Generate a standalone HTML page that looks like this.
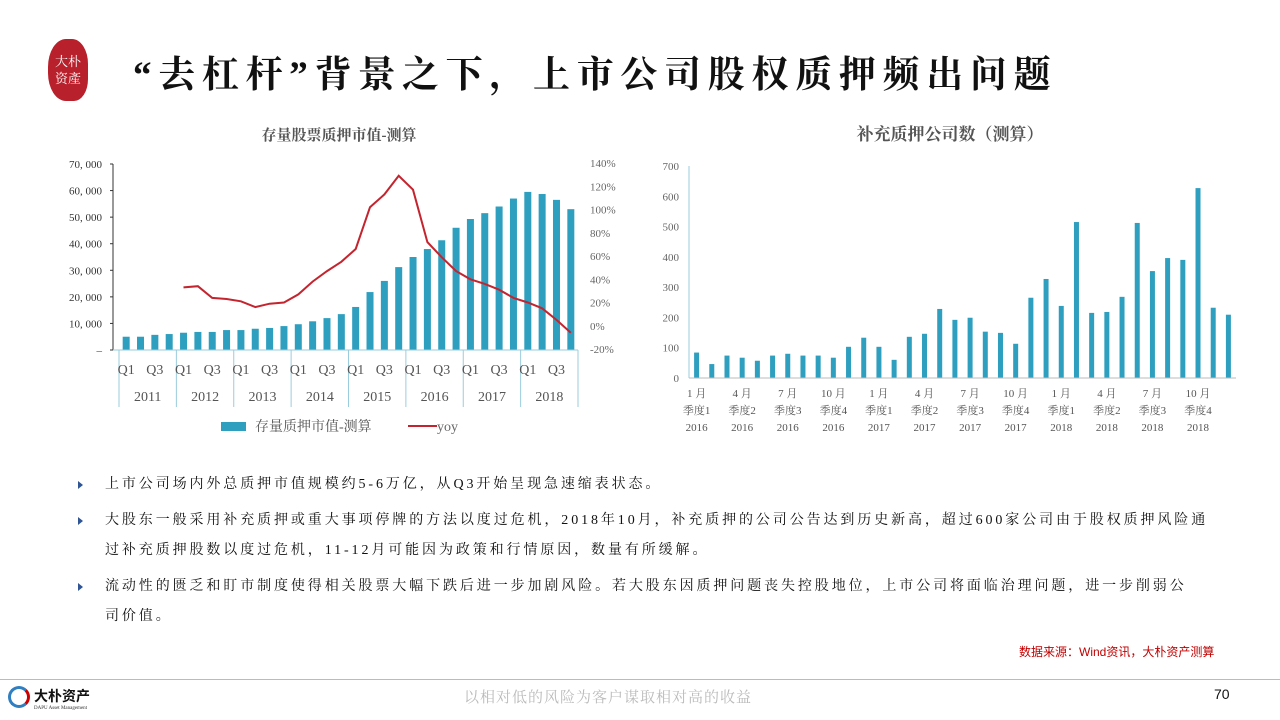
<!DOCTYPE html>
<html><head><meta charset="utf-8">
<style>
body{margin:0;width:1280px;height:720px;background:#fff;overflow:hidden;position:relative;font-family:"Liberation Serif","Noto Serif CJK SC",serif;}
.abs{position:absolute;}
.title{left:133px;top:44px;font-size:37px;color:#111;letter-spacing:6.7px;font-family:"Liberation Serif","Noto Serif CJK SC",serif;font-weight:bold;white-space:nowrap;}
.bul{left:78px;font-size:14px;color:#111;line-height:30px;width:1170px;letter-spacing:2.9px;white-space:nowrap;}
.bul .t{position:absolute;left:0;top:11px;width:0;height:0;border-top:4px solid transparent;border-bottom:4px solid transparent;border-left:5px solid #2f5597;}
.bul p{margin:0 0 0 27px;}
svg text{font-family:"Liberation Serif","Noto Serif CJK SC",serif;}
</style></head><body>
<div class="abs" style="left:48px;top:39px;width:40px;height:62px;background:#b8202c;border-radius:45% 40% 35% 45%;color:#fff;font-size:13px;line-height:17px;text-align:center;padding-top:13px;box-sizing:border-box;font-family:'Noto Serif CJK SC',serif;">大朴<br>资產</div>
<div class="abs title">“去杠杆”背景之下，上市公司股权质押频出问题</div>

<svg class="abs" style="left:0;top:0" width="1280" height="460">
<g id="left"></g>
<g id="right"></g>
</svg>

<div class="abs bul" style="top:470px"><span class="t"></span><p>上市公司场内外总质押市值规模约5-6万亿，从Q3开始呈现急速缩表状态。</p></div>
<div class="abs bul" style="top:506px"><span class="t"></span><p>大股东一般采用补充质押或重大事项停牌的方法以度过危机，2018年10月，补充质押的公司公告达到历史新高，超过600家公司由于股权质押风险通<br>过补充质押股数以度过危机，11-12月可能因为政策和行情原因，数量有所缓解。</p></div>
<div class="abs bul" style="top:572px"><span class="t"></span><p>流动性的匮乏和盯市制度使得相关股票大幅下跌后进一步加剧风险。若大股东因质押问题丧失控股地位，上市公司将面临治理问题，进一步削弱公<br>司价值。</p></div>
<div class="abs" style="left:1019px;top:643px;font-size:12px;color:#c00000;font-family:'Liberation Sans','Noto Sans CJK SC',sans-serif;">数据来源：Wind资讯，大朴资产测算</div>
<div class="abs" style="left:0;top:679px;width:1280px;height:1px;background:#bbb"></div>
<div class="abs" style="left:8px;top:686px;width:22px;height:22px;border-radius:50%;border:3px solid #2f7fc1;border-right-color:#c00;box-sizing:border-box"></div>
<div class="abs" style="left:34px;top:686px;font-size:14px;font-weight:bold;font-family:'Noto Sans CJK SC',sans-serif;color:#111">大朴资产</div>
<div class="abs" style="left:34px;top:706px;font-size:5px;color:#333">DAPU Asset Management</div>
<div class="abs" style="left:464px;top:686px;font-size:15px;color:#bbb;letter-spacing:1px">以相对低的风险为客户谋取相对高的收益</div>
<div class="abs" style="left:1214px;top:686px;font-size:14px;color:#111;font-family:'Liberation Sans',sans-serif">70</div>

<script>
const leftYears=['2011','2012','2013','2014','2015','2016','2017','2018'];
const leftQuarters=['Q1','Q2','Q3','Q4'];
const pledgeValues=[5000,5000,5700,6000,6500,6800,6800,7500,7500,8000,8300,9000,9700,10800,12000,13500,16200,21800,26000,31200,35000,38000,41300,46000,49300,51500,54000,57000,59500,58700,56500,53000];
const yoyValues=[null,null,null,null,33,34,24,23,21,16,19,20,27,38,47,55,66,102,113,129,117,72,59,47,40,36,31,24,20,15,5,-6];
const leftTicks=[0,10000,20000,30000,40000,50000,60000,70000];
const rightTicks=[-20,0,20,40,60,80,100,120,140];
const rMonths=['1 月','4 月','7 月','10 月'];
const rQuarters=['季度1','季度2','季度3','季度4'];
const rYears=['2016','2017','2018'];
const supplementCounts=[84,46,74,67,57,74,80,74,74,67,103,133,103,60,136,146,228,192,199,153,149,113,265,327,238,515,215,218,268,512,353,396,390,627,232,209];
const rTicks=[0,100,200,300,400,500,600,700];

const NS='http://www.w3.org/2000/svg';
function mk(p,tag,attrs,txt){const e=document.createElementNS(NS,tag);for(const k in attrs)e.setAttribute(k,attrs[k]);if(txt!=null)e.textContent=txt;p.appendChild(e);return e;}

// Left chart
const L=document.getElementById('left');
const lx0=119,lx1=578,ly0=350,ly1=164;
const cw=(lx1-lx0)/pledgeValues.length;
const ly=v=>ly0-(v/70000)*(ly0-ly1);
const ry=v=>349-((v+20)/160)*(349-163);
const lxc=i=>lx0+cw*(i+0.5);
let t=mk(L,'text',{x:339,y:140,'text-anchor':'middle','font-size':15,fill:'#555','font-weight':'bold'},'存量股票质押市值-测算');

mk(L,'line',{x1:lx0-6,y1:ly1,x2:lx0-6,y2:ly0,stroke:'#333','stroke-width':1});
leftTicks.forEach(v=>{const y=ly(v);mk(L,'line',{x1:lx0-9,y1:y,x2:lx0-6,y2:y,stroke:'#333'});
 const e=mk(L,'text',{x:102,y:y+4,'text-anchor':'end','font-size':11,fill:'#333'},v===0?'–':v.toLocaleString('en-US').replace(',',', '));
 });
rightTicks.forEach(v=>{const e=mk(L,'text',{x:590,y:ry(v)+4,'font-size':11,fill:'#666'},v+'%');
 });
pledgeValues.forEach((v,i)=>{const b=mk(L,'rect',{x:lxc(i)-3.5,y:ly(v),width:7,height:ly0-ly(v),fill:'#2e9fbf'});
 });
mk(L,'line',{x1:lx0-6,y1:ly0,x2:lx1,y2:ly0,stroke:'#9cd'});
leftYears.forEach((yr,k)=>{const xa=lx0+k*4*cw;
 mk(L,'line',{x1:xa,y1:ly0,x2:xa,y2:407,stroke:'#9cd'});
 const e=mk(L,'text',{x:xa+2*cw,y:401,'text-anchor':'middle','font-size':14,fill:'#555'},yr);
 
 [0,2].forEach(q=>{const e2=mk(L,'text',{x:lxc(k*4+q),y:374,'text-anchor':'middle','font-size':14,fill:'#555'},leftQuarters[q]);
  });});
mk(L,'line',{x1:lx1,y1:ly0,x2:lx1,y2:407,stroke:'#9cd'});
let pts=[];yoyValues.forEach((v,i)=>{if(v!==null)pts.push(lxc(i).toFixed(1)+','+ry(v).toFixed(1));});
const pl=mk(L,'polyline',{points:pts.join(' '),fill:'none',stroke:'#c4242e','stroke-width':2});

mk(L,'rect',{x:221,y:422,width:25,height:9,fill:'#2e9fbf'});
t=mk(L,'text',{x:255,y:431,'font-size':14,fill:'#555'},'存量质押市值-测算');
mk(L,'line',{x1:408,y1:426,x2:437,y2:426,stroke:'#c4242e','stroke-width':2});
t=mk(L,'text',{x:437,y:431,'font-size':14,fill:'#666'},'yoy');

// Right chart
const R=document.getElementById('right');
const rx0=689,rx1=1236,ry0=378,ry1=166;
const rcw=(rx1-rx0)/supplementCounts.length;
const ryy=v=>ry0-(v/700)*(ry0-ry1);
const rxc=i=>rx0+rcw*(i+0.5);
t=mk(R,'text',{x:950,y:140,'text-anchor':'middle','font-size':17,fill:'#555','font-weight':'bold'},'补充质押公司数（测算）');

mk(R,'line',{x1:rx0,y1:ry1,x2:rx0,y2:ry0,stroke:'#9cd'});
rTicks.forEach(v=>{const e=mk(R,'text',{x:679,y:ryy(v)+4,'text-anchor':'end','font-size':11,fill:'#666'},v);
 });
supplementCounts.forEach((v,i)=>{const b=mk(R,'rect',{x:rxc(i)-2.5,y:ryy(v),width:5,height:ry0-ryy(v),fill:'#2e9fbf'});
 });
mk(R,'line',{x1:rx0,y1:ry0,x2:rx1,y2:ry0,stroke:'#bbb'});
rYears.forEach((yr,k)=>{rQuarters.forEach((q,j)=>{const x=rxc(k*12+j*3);
 [rMonths[j],q,yr].forEach((s,r)=>{const e=mk(R,'text',{x:x,y:397+r*17,'text-anchor':'middle','font-size':11,fill:'#555'},s);
  });});});
</script>
</body></html>
